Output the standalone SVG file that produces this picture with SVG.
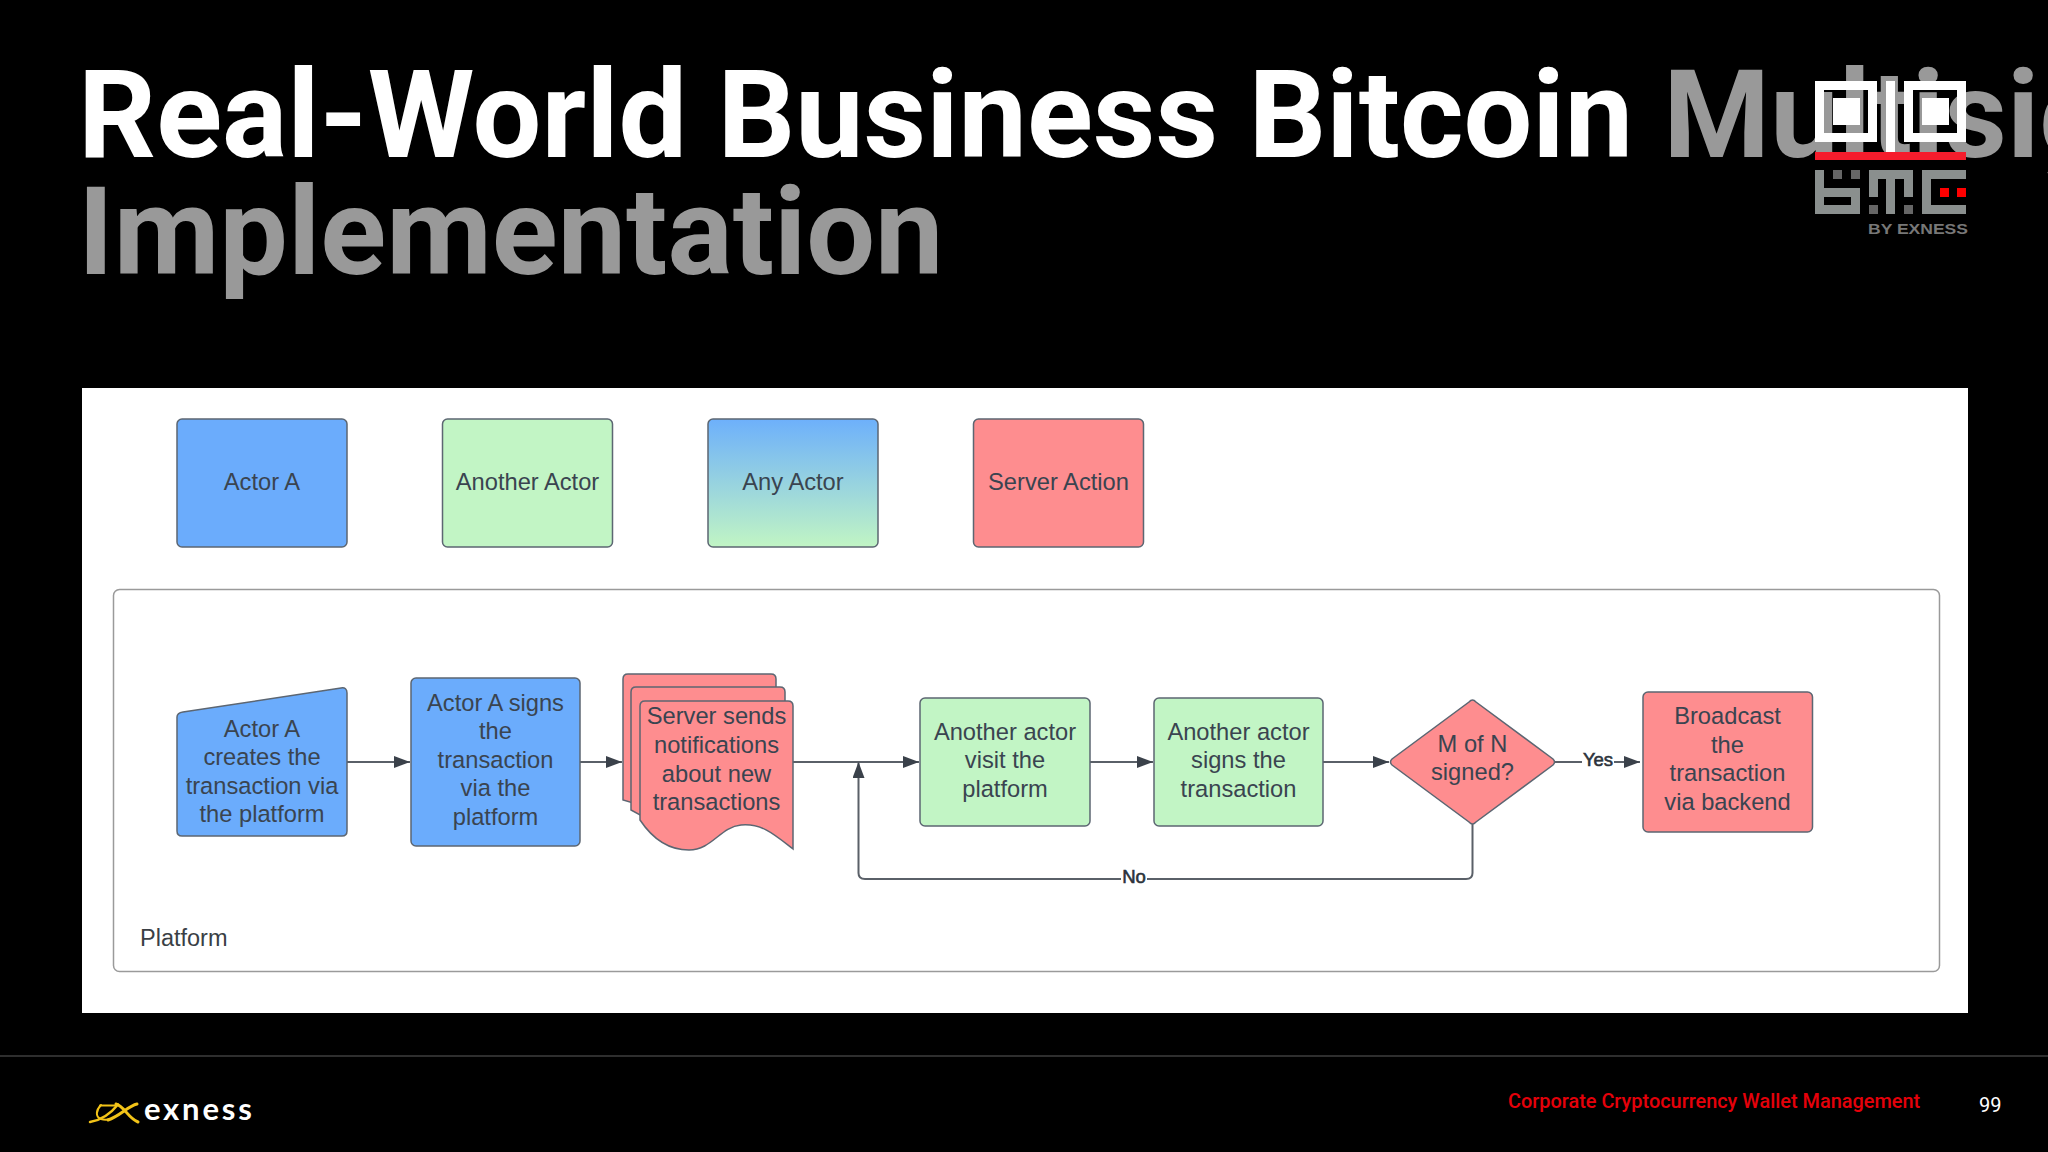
<svg xmlns="http://www.w3.org/2000/svg" width="2048" height="1152" viewBox="0 0 2048 1152">
<defs>
<linearGradient id="any" x1="0" y1="0" x2="0" y2="1"><stop offset="0" stop-color="#6db0fb"/><stop offset="1" stop-color="#c1f5c4"/></linearGradient>
<marker id="ah" markerUnits="userSpaceOnUse" markerWidth="16" markerHeight="12" refX="16" refY="6" orient="auto"><path d="M0 0L16 6L0 12Z" fill="#3a414a"/></marker>
</defs>
<style>
.t{font-family:Roboto,"Liberation Sans",sans-serif;font-weight:700;font-size:122px}
.n{stroke:#5c6672;stroke-width:1.5}
.b{fill:#6bacfc}.g{fill:#c2f5c5}.r{fill:#fe8d8f}
.l{font-family:"Liberation Sans",Arial,sans-serif;font-size:23.7px;fill:#3a4450;text-anchor:middle}
.c{fill:none;stroke:#5a6068;stroke-width:2}
.e{font-family:"Liberation Sans",Arial,sans-serif;font-size:18.500px;fill:#2c333b;text-anchor:middle;stroke:#2c333b;stroke-width:.6}
.lg{fill:#8a8f8e}.ld{fill:#666}
.y{fill:none;stroke:#f2c318;stroke-linecap:round}
</style>
<rect width="2048" height="1152" fill="#000"/>
<g id="title">
<text class="t" x="78" y="157" fill="#fff">Real-World Business Bitcoin <tspan fill="#999">Multisig</tspan></text>
<text class="t" x="78" y="274" fill="#999">Implementation</text>
</g>
<g id="logo-top">
<path fill="#fff" fill-rule="evenodd" d="M1815 81H1877V142H1815ZM1824 90V133H1868V90ZM1904 81H1966V142H1904ZM1913 90V133H1957V90Z"/>
<rect x="1833" y="98" width="27" height="27" fill="#fff"/>
<rect x="1922" y="98" width="27" height="27" fill="#fff"/>
<rect x="1886" y="81" width="9" height="71" fill="#fff"/>
<rect x="1815" y="152" width="151" height="8" fill="#f51c2c"/>
<path class="lg" d="M1815 170H1824V188H1860V214H1815ZM1824 197V205H1851V197Z"/>
<rect class="ld" x="1833" y="170" width="9" height="9"/><rect class="ld" x="1851" y="170" width="9" height="9"/>
<path class="lg" d="M1869 170H1913V197H1904V179H1895V214H1886V179H1878V197H1869Z"/>
<rect class="ld" x="1869" y="205" width="9" height="9"/><rect class="ld" x="1904" y="205" width="9" height="9"/>
<path class="lg" d="M1922 170H1966V179H1931V205H1966V214H1922Z"/>
<rect x="1940" y="188" width="9" height="9" fill="#f00"/><rect x="1957" y="188" width="9" height="9" fill="#f00"/>
<text x="1868" y="234" font-family="'Liberation Sans',Arial,sans-serif" font-weight="700" font-size="15" fill="#777" textLength="100" lengthAdjust="spacingAndGlyphs">BY EXNESS</text>
</g>
<rect id="panel" x="82" y="388" width="1886" height="625" fill="#fff"/>
<g id="legend-actor-a"><rect class="n b" x="177" y="419" width="170" height="128" rx="5"/><text class="l" x="262" y="490">Actor A</text></g>
<g id="legend-another"><rect class="n g" x="442.500" y="419" width="170" height="128" rx="5"/><text class="l" x="527.500" y="490">Another Actor</text></g>
<g id="legend-any"><rect class="n" fill="url(#any)" x="708" y="419" width="170" height="128" rx="5"/><text class="l" x="793" y="490">Any Actor</text></g>
<g id="legend-server"><rect class="n r" x="973.500" y="419" width="170" height="128" rx="5"/><text class="l" x="1058.500" y="490">Server Action</text></g>
<g id="platform"><rect x="113.500" y="589.500" width="1826" height="382" rx="6" fill="#fff" stroke="#9a9a9a" stroke-width="1.500"/><text x="140" y="946" font-family="'Liberation Sans',Arial,sans-serif" font-size="23.500" fill="#3a3f45">Platform</text></g>
<g id="connectors">
<path class="c" marker-end="url(#ah)" d="M347 762H410"/>
<path class="c" marker-end="url(#ah)" d="M580 762H622"/>
<path class="c" marker-end="url(#ah)" d="M793 762H919"/>
<path class="c" marker-end="url(#ah)" d="M1090 762H1153"/>
<path class="c" marker-end="url(#ah)" d="M1323 762H1389"/>
<path class="c" marker-end="url(#ah)" d="M1555 762H1640"/>
<path class="c" marker-end="url(#ah)" d="M1472.500 824V873Q1472.500 879 1466 879H865Q858.500 879 858.500 873V762"/>
<rect x="1582" y="750" width="32" height="22" fill="#fff"/>
<text class="e" x="1598" y="766">Yes</text>
<rect x="1121" y="868" width="26" height="22" fill="#fff"/>
<text class="e" x="1134" y="883">No</text>
</g>
<g id="n1"><path class="n b" d="M183 712L341 688Q347 687 347 693V831Q347 836 342 836H182Q177 836 177 831V717Q177 713 183 712Z"/>
<text class="l"><tspan x="262" y="737">Actor A</tspan><tspan x="262" y="765">creates the</tspan><tspan x="262" y="793.500">transaction via</tspan><tspan x="262" y="822">the platform</tspan></text></g>
<g id="n2"><rect class="n b" x="411" y="678" width="169" height="168" rx="5"/>
<text class="l"><tspan x="495.500" y="711">Actor A signs</tspan><tspan x="495.500" y="739">the</tspan><tspan x="495.500" y="767.500">transaction</tspan><tspan x="495.500" y="796">via the</tspan><tspan x="495.500" y="824.500">platform</tspan></text></g>
<g id="n3">
<path class="n r" d="M623 679Q623 674 628 674H771Q776 674 776 679V720L640 805L623 800Z"/>
<path class="n r" d="M631 692Q631 687 636 687H780Q785 687 785 692V730L640 815L631 810Z"/>
<path class="n r" d="M640 706Q640 701 645 701H788Q793 701 793 706V849C775 835 762 823 741 825C720 827 712 850 689 850C665 850 650 835 640 820Z"/>
<text class="l"><tspan x="716.500" y="724">Server sends</tspan><tspan x="716.500" y="753">notifications</tspan><tspan x="716.500" y="781.500">about new</tspan><tspan x="716.500" y="810">transactions</tspan></text></g>
<g id="n4"><rect class="n g" x="920" y="698" width="170" height="128" rx="5"/>
<text class="l"><tspan x="1005" y="739.500">Another actor</tspan><tspan x="1005" y="768">visit the</tspan><tspan x="1005" y="796.500">platform</tspan></text></g>
<g id="n5"><rect class="n g" x="1154" y="698" width="169" height="128" rx="5"/>
<text class="l"><tspan x="1238.500" y="739.500">Another actor</tspan><tspan x="1238.500" y="768">signs the</tspan><tspan x="1238.500" y="796.500">transaction</tspan></text></g>
<g id="n6"><path class="n r" d="M1469 702Q1472.500 698 1476 702L1553 759Q1556 762 1553 765L1476 822Q1472.500 826 1469 822L1392 765Q1389 762 1392 759Z"/>
<text class="l"><tspan x="1472.500" y="752">M of N</tspan><tspan x="1472.500" y="780">signed?</tspan></text></g>
<g id="n7"><rect class="n r" x="1643" y="692" width="169.500" height="140" rx="5"/>
<text class="l"><tspan x="1727.500" y="724">Broadcast</tspan><tspan x="1727.500" y="752.500">the</tspan><tspan x="1727.500" y="781">transaction</tspan><tspan x="1727.500" y="809.500">via backend</tspan></text></g>
<rect id="footer-line" y="1055" width="2048" height="2" fill="#2e2e2e"/>
<g id="logo-bottom">
<path class="y" stroke-width="2.500" d="M90 1122C102 1120 112 1112 118 1104.500"/>
<path class="y" stroke-width="2" d="M100 1105.500H116"/>
<path class="y" stroke-width="2" d="M101 1105C96 1110 95 1117 101 1119C104 1120 107 1120 110 1119"/>
<path class="y" stroke-width="3" d="M116 1104C124 1106 128 1118 138 1122"/>
<path class="y" stroke-width="3" d="M137 1104C128 1106 120 1116 108 1120"/>
<text x="144" y="1120" font-family="Lato,'Open Sans',sans-serif" font-weight="700" font-size="31" letter-spacing="2.800" fill="#fff">exness</text>
</g>
<text id="footer-title" x="1508" y="1108" font-family="Roboto,sans-serif" font-weight="500" font-size="19.900" fill="#e5000a">Corporate Cryptocurrency Wallet Management</text>
<text id="page" x="1979" y="1112" font-family="Roboto,sans-serif" font-size="20" fill="#fff">99</text>
</svg>
